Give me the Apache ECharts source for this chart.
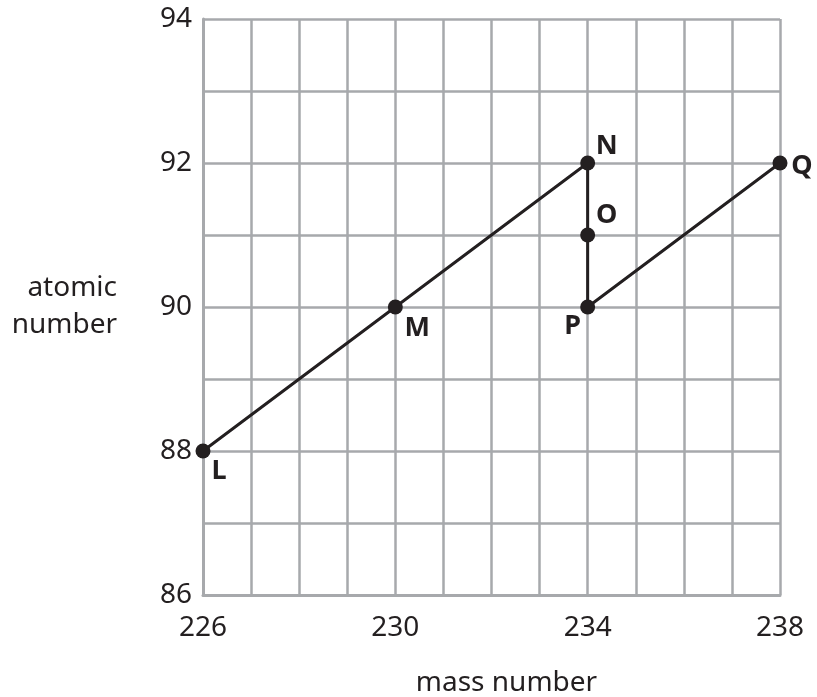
<!DOCTYPE html>
<html>
<head>
<meta charset="utf-8">
<script src="https://cdn.jsdelivr.net/npm/echarts@6/dist/echarts.min.js"></script>
<style>
  html, body { margin: 0; padding: 0; background: #fff; }
  #chart { width: 817px; height: 697px; }
</style>
</head>
<body>
<div id="chart"></div>
<script>
// points along the decay path, in order
const pointNames = ['L', 'M', 'N', 'O', 'P', 'Q']
const massNumbers = [226, 230, 234, 234, 234, 238]
const atomicNumbers = [88, 90, 92, 91, 90, 92]

const xTicks = [226, 230, 234, 238]
const yTicks = [86, 88, 90, 92, 94]

// where each letter sits next to its dot
const labelOffsets = {
  L: [16, 20],
  M: [22, 21],
  N: [19, -17],
  O: [19, -20],
  P: [-15, 19],
  Q: [22, 3]
}

const chart = echarts.init(document.getElementById('chart'))
const ink = '#231f20'
const gridColor = '#a7a9ac'
const font = 'Noto Sans'

chart.setOption({
  animation: false,
  grid: { left: 203, right: 37, top: 19, bottom: 102, outerBoundsMode: 'none' },
  xAxis: {
    type: 'value',
    min: xTicks[0],
    max: xTicks[xTicks.length - 1],
    interval: 4,
    name: 'mass number',
    nameLocation: 'middle',
    nameGap: 74,
    nameTextStyle: { color: ink, fontSize: 28, fontFamily: font, padding: [0, 0, 0, 30] },
    axisLine: { show: true, lineStyle: { color: gridColor, width: 3 } },
    axisTick: { show: false },
    axisLabel: { color: ink, fontSize: 28, fontFamily: font, margin: 19 },
    splitLine: { show: true, lineStyle: { color: gridColor, width: 2.5 } },
    minorTick: { show: false, splitNumber: 4 },
    minorSplitLine: { show: true, lineStyle: { color: gridColor, width: 2.5 } }
  },
  yAxis: {
    type: 'value',
    min: yTicks[0],
    max: yTicks[yTicks.length - 1],
    interval: 2,
    name: 'atomic\nnumber',
    nameLocation: 'middle',
    nameRotate: 0,
    nameGap: 86,
    nameTextStyle: { color: ink, fontSize: 28, fontFamily: font, align: 'right', lineHeight: 37 },
    axisLine: { show: true, lineStyle: { color: gridColor, width: 3 } },
    axisTick: { show: false },
    axisLabel: { color: ink, fontSize: 28, fontFamily: font, margin: 11 },
    splitLine: { show: true, lineStyle: { color: gridColor, width: 2.5 } },
    minorTick: { show: false, splitNumber: 2 },
    minorSplitLine: { show: true, lineStyle: { color: gridColor, width: 2.5 } }
  },
  series: [{
    type: 'line',
    symbol: 'circle',
    symbolSize: 15,
    lineStyle: { color: ink, width: 3 },
    itemStyle: { color: ink },
    data: pointNames.map((name, i) => ({
      name: name,
      value: [massNumbers[i], atomicNumbers[i]],
      label: {
        show: true,
        position: 'inside',
        offset: labelOffsets[name],
        formatter: '{b}',
        color: ink,
        fontSize: 27,
        fontWeight: 'bold',
        fontFamily: font
      }
    }))
  }]
})
</script>
</body>
</html>
